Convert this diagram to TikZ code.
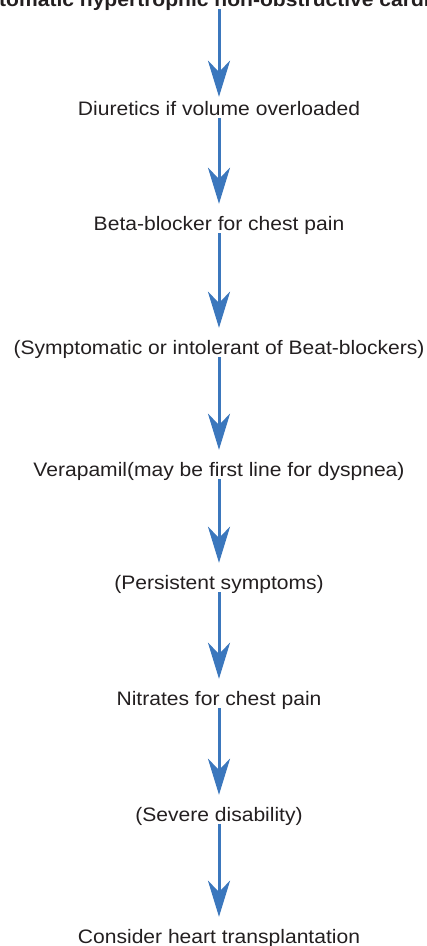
\documentclass[tikz,border=0pt]{standalone}
\usepackage{fontspec}
\setmainfont{Liberation Sans}[FakeStretch=1.08]
\usetikzlibrary{arrows.meta}
\definecolor{flowblue}{HTML}{3B77BD}
\definecolor{flowtext}{HTML}{231F20}
\tikzset{
  steptext/.style={anchor=base, inner xsep=0pt, inner ysep=3pt,
                   text height=14pt, text depth=0pt, text=flowtext,
                   font=\fontsize{19.5pt}{23pt}\selectfont},
  headtext/.style={steptext, anchor=base west,
                   font=\fontsize{19.5pt}{23pt}\selectfont\bfseries},
  flowarr/.style={-{Stealth[length=36pt, width=22pt, inset=11pt]},
                  line width=3pt, flowblue, shorten >=9pt},
}

\begin{document}
\begin{tikzpicture}[x=1pt, y=-1pt]
  \useasboundingbox (0,0) rectangle (427,946);
  \clip (0,0) rectangle (427,946);

  % heading runs off both edges of the page
  \node[headtext] (head) at (-1,6)
    {\llap{Symp}tomatic hypertrophic non-obstructive card\rlap{iomyopathy}};

  \node[steptext] (diur) at (219,115) {Diuretics if volume overloaded};
  \node[steptext] (beta) at (219,230) {Beta-blocker for chest pain};
  \node[steptext] (intol) at (219,354) {(Symptomatic or intolerant of Beat-blockers)};
  \node[steptext] (vera) at (219,476) {Verapamil(may be first line for dyspnea)};
  \node[steptext] (persist) at (219,589) {(Persistent symptoms)};
  \node[steptext] (nitr) at (219,705) {Nitrates for chest pain};
  \node[steptext] (severe) at (219,821) {(Severe disability)};
  \node[steptext] (transpl) at (219,943) {Consider heart transplantation};

  \draw[flowarr, shorten >=1pt] (head.south -| diur.north) -- (diur.north);
  \draw[flowarr] (diur) -- (beta);
  \draw[flowarr] (beta) -- (intol);
  \draw[flowarr] (intol) -- (vera);
  \draw[flowarr] (vera) -- (persist);
  \draw[flowarr] (persist) -- (nitr);
  \draw[flowarr] (nitr) -- (severe);
  \draw[flowarr] (severe) -- (transpl);

\end{tikzpicture}
\end{document}
